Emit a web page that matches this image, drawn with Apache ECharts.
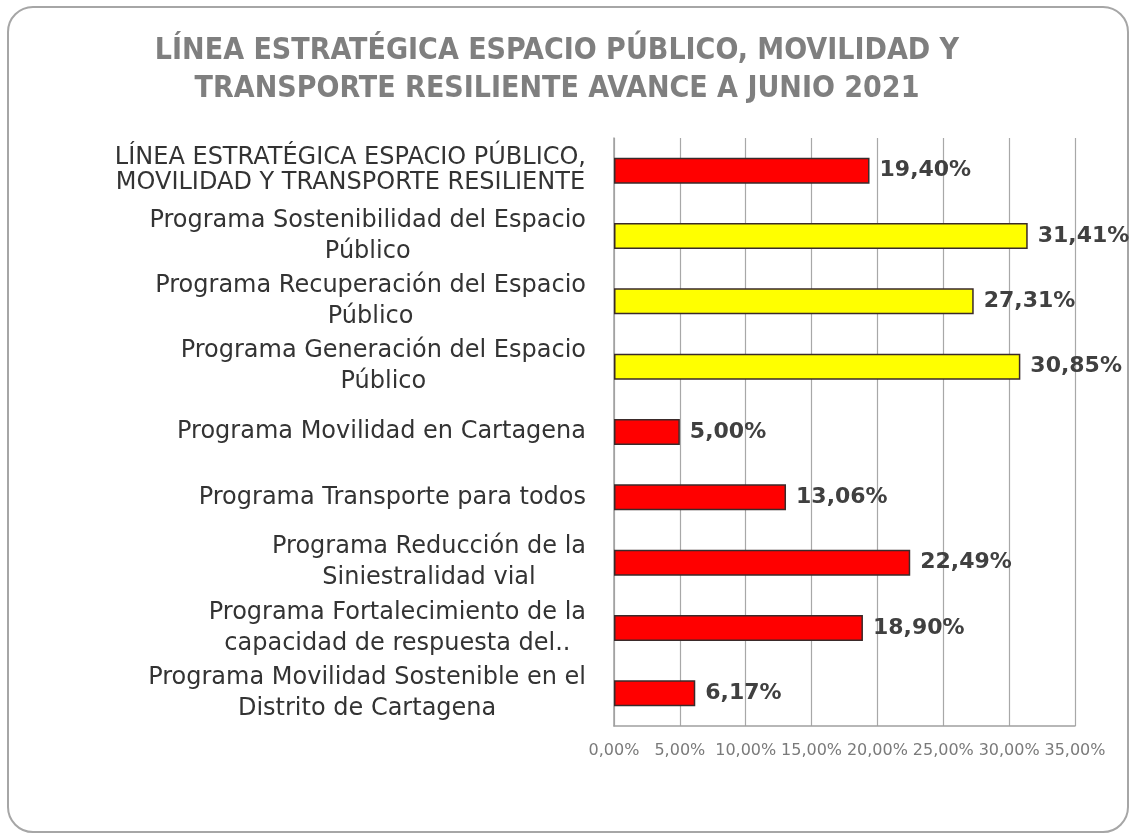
<!DOCTYPE html>
<html>
<head>
<meta charset="utf-8">
<script src="https://cdn.jsdelivr.net/npm/echarts@6/dist/echarts.min.js"></script>
<style>
  html, body { margin: 0; padding: 0; background: #fff; }
  #chart { width: 1135px; height: 838px; }
</style>
</head>
<body>
<div id="chart"></div>
<script>
  const titleText = "LÍNEA ESTRATÉGICA ESPACIO PÚBLICO, MOVILIDAD Y\nTRANSPORTE RESILIENTE AVANCE A JUNIO 2021";

  const categories = [
    "LÍNEA ESTRATÉGICA ESPACIO PÚBLICO,\nMOVILIDAD Y TRANSPORTE RESILIENTE",
    "Programa Sostenibilidad del Espacio\nPúblico",
    "Programa Recuperación del Espacio\nPúblico",
    "Programa Generación del Espacio\nPúblico",
    "Programa Movilidad en Cartagena",
    "Programa Transporte para todos",
    "Programa Reducción de la\nSiniestralidad vial",
    "Programa Fortalecimiento de la\ncapacidad de respuesta del..",
    "Programa Movilidad Sostenible en el\nDistrito de Cartagena",
  ];

  const avance = [19.40, 31.41, 27.31, 30.85, 5.00, 13.06, 22.49, 18.90, 6.17];

  const barColors = ["#ff0000", "#ffff00", "#ffff00", "#ffff00", "#ff0000", "#ff0000", "#ff0000", "#ff0000", "#ff0000"];

  const axisMin = 0;
  const axisMax = 35;
  const axisStep = 5;

  const fmtPct = (v) => `${Number(v).toFixed(2).replace(".", ",")}%`;

  const chart = echarts.init(document.getElementById("chart"));

  chart.setOption({
    backgroundColor: "#ffffff",
    animation: false,
    title: {
      text: titleText,
      left: 552,
      top: 27,
      textAlign: "center",
      textStyle: {
        fontFamily: "'Liberation Sans Narrow', 'DejaVu Sans Condensed', 'Roboto Condensed', sans-serif",
        fontSize: 30,
        fontWeight: "bold",
        color: "#7f7f7f",
        lineHeight: 38,
      },
    },
    graphic: [
      {
        type: "rect",
        silent: true,
        shape: { x: 8, y: 7, width: 1120, height: 825, r: 25 },
        style: { fill: "none", stroke: "#a6a6a6", lineWidth: 2 },
      },
    ],
    grid: { left: 614, right: 60, top: 138, bottom: 112, containLabel: false },
    xAxis: {
      type: "value",
      min: axisMin,
      max: axisMax,
      interval: axisStep,
      axisLine: { show: true, lineStyle: { color: "#a0a0a0", width: 1.5 } },
      axisTick: { show: false },
      splitLine: { show: true, lineStyle: { color: "#a8a8a8", width: 1.2 } },
      axisLabel: {
        formatter: fmtPct,
        margin: 17,
        fontFamily: "'DejaVu Sans', sans-serif",
        fontSize: 16,
        color: "#7a7a7a",
      },
    },
    yAxis: {
      type: "category",
      inverse: true,
      data: categories,
      axisLine: { show: true, lineStyle: { color: "#a0a0a0", width: 1.5 } },
      axisTick: { show: false },
      axisLabel: {
        margin: 28,
        formatter: (value, index) => {
          const style = index === 0 ? "a" : "c";
          return value.split("\n").map((line) => `{${style}|${line}}`).join("\n");
        },
        rich: {
          a: {
            align: "center",
            fontFamily: "'DejaVu Sans', sans-serif",
            fontSize: 24,
            lineHeight: 25,
            color: "#333333",
          },
          c: {
            align: "center",
            fontFamily: "'DejaVu Sans', sans-serif",
            fontSize: 24,
            lineHeight: 31,
            color: "#333333",
          },
        },
      },
    },
    series: [
      {
        type: "bar",
        data: avance.map((v, i) => ({ value: v, itemStyle: { color: barColors[i] } })),
        barWidth: 26,
        itemStyle: { borderColor: "#3a2a2a", borderWidth: 1.5 },
        label: {
          show: true,
          position: "right",
          distance: 10,
          formatter: (p) => fmtPct(p.value),
          fontFamily: "'DejaVu Sans', sans-serif",
          fontWeight: "bold",
          fontSize: 22,
          color: "#404040",
        },
      },
    ],
  });
</script>
</body>
</html>
